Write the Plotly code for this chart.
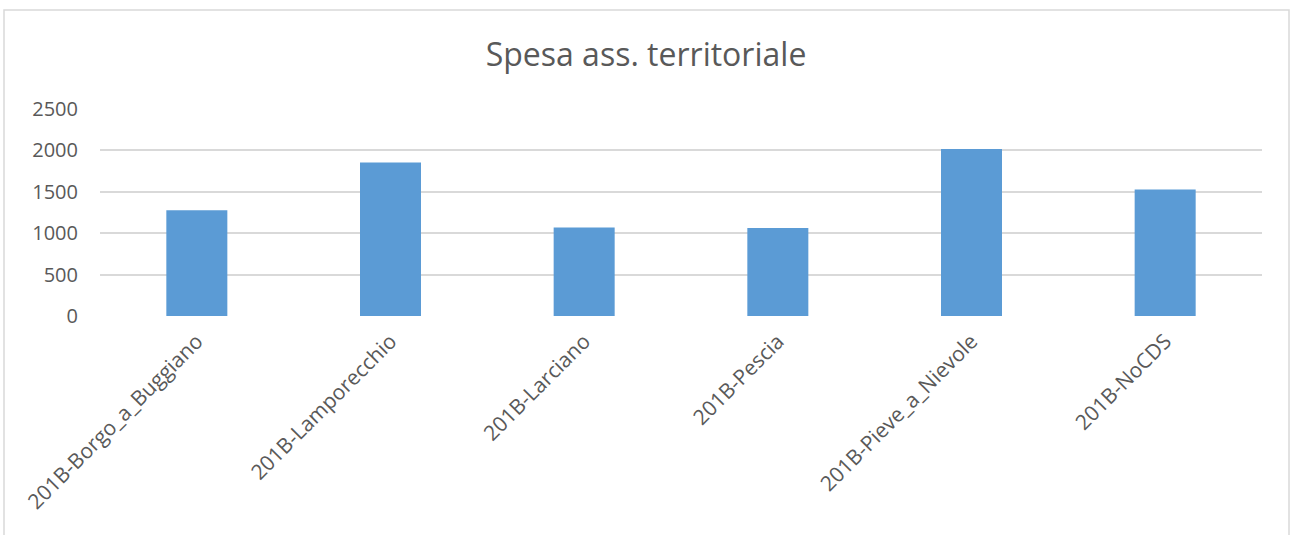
import plotly.graph_objects as go

categories = ["201B-Borgo_a_Buggiano", "201B-Lamporecchio", "201B-Larciano",
              "201B-Pescia", "201B-Pieve_a_Nievole", "201B-NoCDS"]
values = [1278, 1855, 1069, 1064, 2016, 1528]
y_ticks = [0, 500, 1000, 1500, 2000, 2500]
title_text = "Spesa ass. territoriale"

W, H = 1292, 535
L, R, T, B = 100, 30, 109, 219

fig = go.Figure(go.Bar(x=categories, y=values, marker_color="#5B9BD5",
                       marker_line_width=0, width=0.315))

pw = W - L - R
ph = H - T - B
fx0 = (4 - L) / pw
fx1 = (1289 - L) / pw
fy1 = (H - B - 10) / ph
fy0 = (H - B - 545) / ph

fig.update_layout(
    width=W, height=H,
    margin=dict(l=L, r=R, t=T, b=B, autoexpand=False),
    paper_bgcolor="white", plot_bgcolor="white",
    font=dict(family="Open Sans", color="#595959", size=19),
    title=dict(text=title_text, x=0.5, xanchor="center", y=1 - 55 / H, yanchor="middle",
               font=dict(size=32, color="#595959", family="Open Sans")),
    showlegend=False,
    bargap=0.685,
    shapes=[dict(type="rect", xref="paper", yref="paper", x0=fx0, x1=fx1, y0=fy0, y1=fy1,
                 line=dict(color="#D9D9D9", width=1.5), fillcolor="rgba(0,0,0,0)", layer="below")],
)
fig.update_xaxes(tickangle=-45, showgrid=False, showline=False, ticks="",
                 tickfont=dict(size=21, color="#595959"), fixedrange=True,
                 ticklabelstandoff=8)
fig.update_yaxes(range=[0, 2500], tickvals=y_ticks, showgrid=True, gridcolor="#D9D9D9",
                 gridwidth=1.5, zeroline=False, showline=False, ticks="",
                 tickfont=dict(size=20, color="#595959"), ticklabelstandoff=21)

fig.write_html("out.html", config={"displayModeBar": False},
               post_script="document.body.style.margin='0';document.body.style.overflow='hidden';")
